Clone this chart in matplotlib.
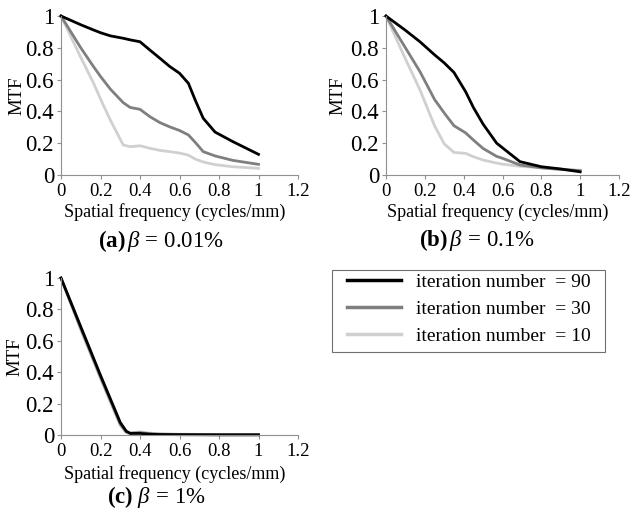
import matplotlib
matplotlib.use("Agg")
import matplotlib.pyplot as plt
from matplotlib.lines import Line2D
from matplotlib.patches import Rectangle

plt.rcParams['font.family'] = ['Liberation Serif', 'DejaVu Serif']
plt.rcParams['mathtext.fontset'] = 'custom'
plt.rcParams['mathtext.it'] = 'Liberation Serif:italic'
plt.rcParams['mathtext.rm'] = 'Liberation Serif'
plt.rcParams['mathtext.bf'] = 'Liberation Serif:bold'

# data
freq_a = [0, 0.1, 0.165, 0.2, 0.25, 0.315, 0.35, 0.4, 0.45, 0.5, 0.55, 0.6, 0.645, 0.68, 0.72, 0.78, 0.87, 1.0]
a_90 = [1, 0.945, 0.912, 0.895, 0.875, 0.86, 0.85, 0.838, 0.786, 0.735, 0.683, 0.64, 0.577, 0.47, 0.357, 0.27, 0.21, 0.13]
a_30 = [1, 0.8, 0.681, 0.62, 0.54, 0.455, 0.425, 0.413, 0.367, 0.33, 0.303, 0.28, 0.252, 0.205, 0.147, 0.12, 0.092, 0.067]
a_10 = [1, 0.74, 0.577, 0.478, 0.345, 0.189, 0.178, 0.184, 0.168, 0.155, 0.147, 0.138, 0.125, 0.1, 0.082, 0.065, 0.052, 0.042]

freq_b = [0, 0.1, 0.175, 0.25, 0.3, 0.35, 0.41, 0.45, 0.5, 0.57, 0.6, 0.69, 0.8, 0.9, 1.0]
b_90 = [1, 0.91, 0.838, 0.756, 0.705, 0.645, 0.524, 0.425, 0.32, 0.2, 0.171, 0.084, 0.052, 0.038, 0.02]
b_30 = [1, 0.8, 0.65, 0.475, 0.39, 0.31, 0.265, 0.22, 0.167, 0.117, 0.105, 0.063, 0.045, 0.035, 0.027]
b_10 = [1, 0.73, 0.535, 0.31, 0.196, 0.142, 0.136, 0.115, 0.094, 0.075, 0.068, 0.055, 0.045, 0.037, 0.03]

freq_c = [0, 0.1, 0.2, 0.3, 0.33, 0.35, 0.4, 0.45, 0.5, 0.6, 0.8, 1.0]
c_90 = [1, 0.69, 0.38, 0.08, 0.025, 0.01, 0.01, 0.005, 0.003, 0.002, 0.001, 0.001]
c_30 = [1, 0.68, 0.37, 0.07, 0.02, 0.012, 0.015, 0.008, 0.005, 0.003, 0.002, 0.002]
c_10 = [1, 0.67, 0.36, 0.06, 0.015, 0.012, 0.02, 0.012, 0.008, 0.005, 0.003, 0.003]

labels = ['iteration number  = 90', 'iteration number  = 30', 'iteration number  = 10']
colors = ['#000000', '#7f7f7f', '#d0d0d0']

W, H = 632, 514
fig = plt.figure(figsize=(W / 100, H / 100), dpi=100)

def px(x0, y0, x1, y1):
    # pixel box (left, top of y=1, right of 1.2, y=0) to figure fraction
    return [x0 / W, 1 - y1 / H, (x1 - x0) / W, (y1 - y0) / H]

panels = [
    (px(61, 16, 298, 175), freq_a, [a_90, a_30, a_10], r'$\mathbf{(a)}\,\beta\,=\,0.01\%$', (161, 241), 37, -44),
    (px(386, 16, 619, 175), freq_b, [b_90, b_30, b_10], r'$\mathbf{(b)}\,\beta\,=\,0.1\%$', (477, 240), 37, -48),
    (px(61, 278, 298, 435), freq_c, [c_90, c_30, c_10], r'$\mathbf{(c)}\ \beta\,=\,1\%$', (156, 497), 39, -46),
]

for rect, fx, series, title, tpos, xl_off, yl_off in panels:
    ax = fig.add_axes(rect)
    hpx = rect[3] * H
    wpx = rect[2] * W
    # draw light first so dark stays on top
    for ys, col in zip(series[::-1], colors[::-1]):
        ax.plot(fx, ys, color=col, lw=2.0, clip_on=False, solid_joinstyle='round')
    ax.set_xlim(0, 1.2)
    ax.set_ylim(0, 1)
    ax.set_xticks([0, 0.2, 0.4, 0.6, 0.8, 1, 1.2])
    ax.set_xticklabels(['0', '0.2', '0.4', '0.6', '0.8', '1', '1.2'])
    ax.set_yticks([0, 0.2, 0.4, 0.6, 0.8, 1])
    ax.set_yticklabels(['0', '0.2', '0.4', '0.6', '0.8', '1'])
    for s in ['top', 'right']:
        ax.spines[s].set_visible(False)
    for s in ['left', 'bottom']:
        ax.spines[s].set_color('#909090')
        ax.spines[s].set_linewidth(0.8)
    ax.tick_params(colors='#909090', labelcolor='black', length=3, width=0.8, pad=2)
    ax.tick_params(axis='x', labelsize=13.5, pad=3)
    ax.tick_params(axis='y', labelsize=16.5)
    ax.set_xlabel('Spatial frequency (cycles/mm)', fontsize=13, va='center')
    ax.xaxis.set_label_coords(0.48, -xl_off / hpx)
    ax.set_ylabel('MTF', fontsize=13.5, va='center')
    ax.yaxis.set_label_coords(yl_off / wpx, 0.5)
    # panel caption
    fig.text(tpos[0] / W, 1 - tpos[1] / H, title, fontsize=16.5, ha='center', va='center')

# legend box
fig.patches.append(Rectangle((332 / W, 1 - 352 / H), 273 / W, 82 / H, transform=fig.transFigure,
                             fill=False, edgecolor='#707070', lw=0.8))
handles = [Line2D([], [], color=c, lw=2.5) for c in colors]
leg = fig.legend(handles, labels, loc='upper left', bbox_to_anchor=(347 / W, 1 - 273 / H),
                 fontsize=14, frameon=False, handlelength=2.8, borderpad=0, borderaxespad=0,
                 labelspacing=0.5, handletextpad=0.75)

fig.savefig('out.png', dpi=100)
